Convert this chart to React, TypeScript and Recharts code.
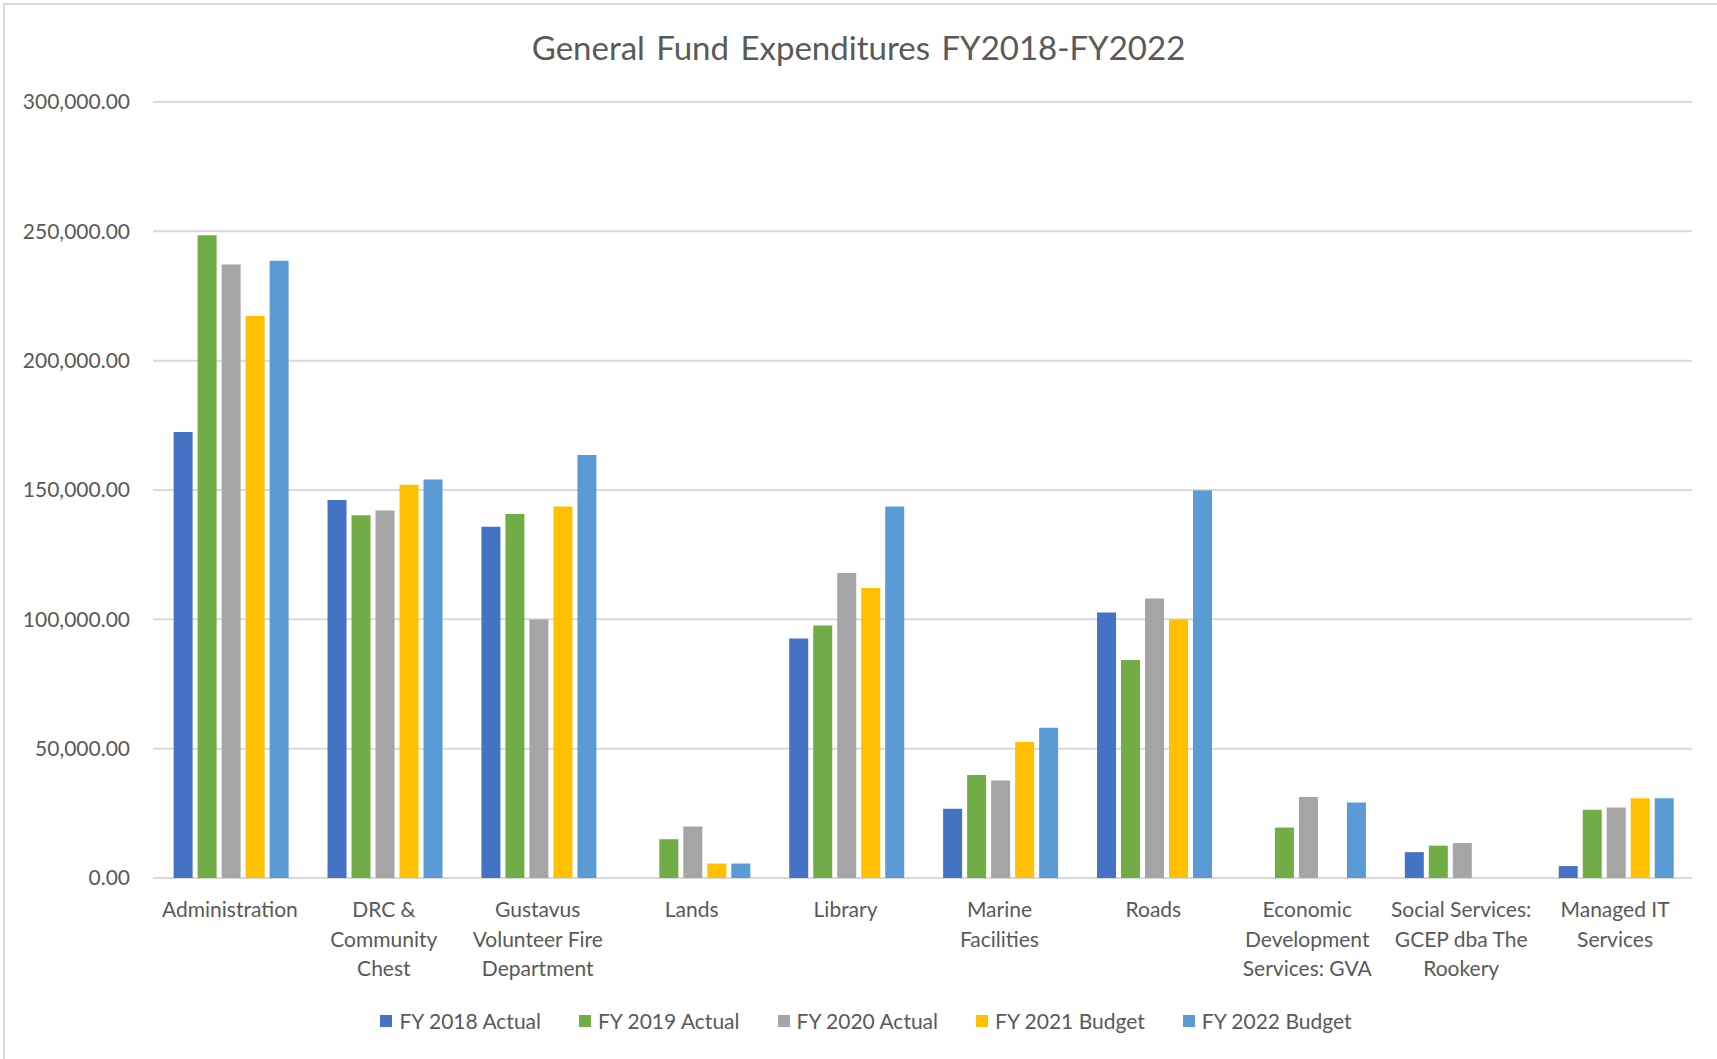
import React from "react"
import { BarChart, Bar, XAxis, YAxis, CartesianGrid } from "recharts"

const categories = [
  "Administration",
  "DRC & Community Chest",
  "Gustavus Volunteer Fire Department",
  "Lands",
  "Library",
  "Marine Facilities",
  "Roads",
  "Economic Development Services: GVA",
  "Social Services: GCEP dba The Rookery",
  "Managed IT Services",
]

// how each category label wraps under the axis
const categoryLines = [
  ["Administration"],
  ["DRC &", "Community", "Chest"],
  ["Gustavus", "Volunteer Fire", "Department"],
  ["Lands"],
  ["Library"],
  ["Marine", "Facilities"],
  ["Roads"],
  ["Economic", "Development", "Services: GVA"],
  ["Social Services:", "GCEP dba The", "Rookery"],
  ["Managed IT", "Services"],
]

const fy2018Actual = [172400, 146100, 135800, 0, 92600, 26800, 102600, 0, 10000, 4600]
const fy2019Actual = [248500, 140200, 140700, 15000, 97600, 39800, 84300, 19500, 12500, 26400]
const fy2020Actual = [237200, 142100, 99900, 19900, 117900, 37700, 108100, 31300, 13500, 27300]
const fy2021Budget = [217300, 152000, 143600, 5600, 112100, 52600, 99900, 0, 0, 30800]
const fy2022Budget = [238600, 154100, 163500, 5600, 143600, 58100, 149800, 29200, 0, 30800]

const yTicks = [0, 50000, 100000, 150000, 200000, 250000, 300000]

const series = [
  { key: "fy2018", name: "FY 2018 Actual", color: "#4472C4", values: fy2018Actual },
  { key: "fy2019", name: "FY 2019 Actual", color: "#70AD47", values: fy2019Actual },
  { key: "fy2020", name: "FY 2020 Actual", color: "#A5A5A5", values: fy2020Actual },
  { key: "fy2021", name: "FY 2021 Budget", color: "#FFC000", values: fy2021Budget },
  { key: "fy2022", name: "FY 2022 Budget", color: "#5B9BD5", values: fy2022Budget },
]

const data = categories.map((category, i) => {
  const row: any = { category, lines: categoryLines[i] }
  series.forEach((s) => {
    row[s.key] = s.values[i]
  })
  return row
})

const FONT = "Lato, 'Open Sans', sans-serif"
const TEXT = "#595959"

const formatTick = (v: number) =>
  v.toLocaleString("en-US", { minimumFractionDigits: 2, maximumFractionDigits: 2 })

const CategoryTick = (props: any) => {
  const { x, y, index } = props
  const lines = categoryLines[index] || [props.payload.value]
  return (
    <text x={x} y={y} textAnchor="middle" fill={TEXT} fontSize={21} fontFamily={FONT}>
      {lines.map((line: string, i: number) => (
        <tspan key={i} x={x} dy={i === 0 ? 39 : 29.5}>
          {line}
        </tspan>
      ))}
    </text>
  )
}

export default function App() {
  return (
    <div
      style={{
        position: "absolute",
        left: 0,
        top: 0,
        width: 1717,
        height: 1059,
        background: "#fff",
        overflow: "hidden",
        fontFamily: FONT,
      }}
    >
      {/* chart frame, only top/left edges visible in the crop */}
      <div
        style={{
          position: "absolute",
          left: 3,
          top: 3,
          width: 1730,
          height: 1070,
          borderLeft: "2px solid #d9d9d9",
          borderTop: "2px solid #d9d9d9",
        }}
      />

      <div
        style={{
          position: "absolute",
          top: 27,
          left: 0,
          width: 1717,
          textAlign: "center",
          fontSize: 33,
          color: TEXT,
          lineHeight: "40px",
          wordSpacing: 3,
        }}
      >
        General Fund Expenditures FY2018-FY2022
      </div>

      <div style={{ position: "absolute", left: 0, top: 0 }}>
        <BarChart
          width={1717}
          height={1059}
          data={data}
          margin={{ top: 102, right: 25, bottom: 0, left: 0 }}
          barCategoryGap="13.4%"
          barGap={5}
        >
          <CartesianGrid vertical={false} stroke="#d9d9d9" strokeWidth={2} />
          <XAxis
            dataKey="category"
            axisLine={false}
            tickLine={false}
            tickSize={0}
            tickMargin={0}
            height={181}
            interval={0}
            tick={<CategoryTick />}
          />
          <YAxis
            domain={[0, 300000]}
            ticks={yTicks}
            axisLine={false}
            tickLine={false}
            tickSize={0}
            tickMargin={23}
            width={153}
            tickFormatter={formatTick}
            tick={{ fill: TEXT, fontSize: 21, fontFamily: FONT }}
          />
          {series.map((s) => (
            <Bar key={s.key} dataKey={s.key} name={s.name} fill={s.color} isAnimationActive={false} />
          ))}
        </BarChart>
      </div>

      {/* legend */}
      <div
        style={{
          position: "absolute",
          top: 1007,
          left: 0,
          width: 1732,
          display: "flex",
          justifyContent: "center",
          gap: 38,
          fontSize: 21,
          color: TEXT,
          lineHeight: "28px",
        }}
      >
        {series.map((s) => (
          <div key={s.key} style={{ display: "flex", alignItems: "center" }}>
            <span
              style={{
                display: "inline-block",
                width: 12,
                height: 12,
                background: s.color,
                marginRight: 7,
              }}
            />
            <span>{s.name}</span>
          </div>
        ))}
      </div>
    </div>
  )
}
